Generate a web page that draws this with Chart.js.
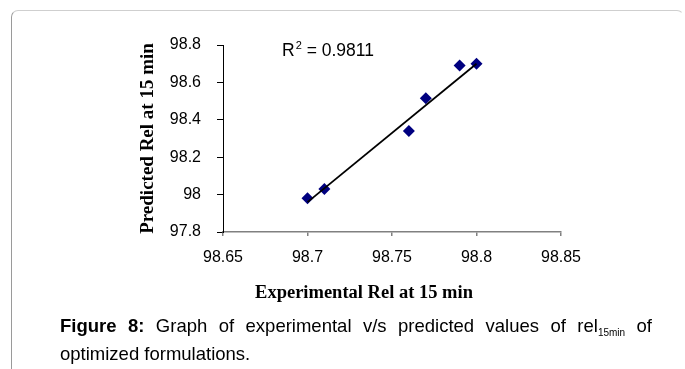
<!DOCTYPE html>
<html><head><meta charset="utf-8">
<script src="https://cdn.jsdelivr.net/npm/chart.js@4.4.1/dist/chart.umd.min.js"></script>
<style>
html,body{margin:0;padding:0;background:#fff;}
#wrap{position:relative;width:685px;height:369px;overflow:hidden;background:#fff;}
#frame{position:absolute;left:11px;top:10px;width:671px;height:420px;border-top:1.5px solid #cfcfcf;border-left:1.5px solid #9a9a9a;border-right:1.5px solid transparent;border-top-left-radius:7px;border-top-right-radius:7px;}
canvas{position:absolute;left:0;top:0;}
.t{position:absolute;white-space:nowrap;color:#000;}
#xtitle{left:0;width:728px;text-align:center;top:282px;font:bold 18.5px "Liberation Serif","Times New Roman",serif;line-height:20px;}
#r2{left:282px;top:40px;font:17.5px "Liberation Sans",Arial,sans-serif;line-height:20px;}
#r2 sup{font-size:11px;position:relative;top:-7px;vertical-align:baseline;margin-left:1px;}
#cap{position:absolute;left:60px;top:313px;width:592px;font:18.5px "Liberation Sans",Arial,sans-serif;line-height:25px;text-align:justify;color:#000;}
#cap sub{font-size:10px;position:relative;top:4px;vertical-align:baseline;}
</style>
</head><body>
<div id="wrap">
<div id="frame"></div>
<canvas id="c" width="685" height="369"></canvas>
<div id="xtitle" class="t">Experimental Rel at 15 min</div>
<div id="r2" class="t">R<sup>2</sup> = 0.9811</div>
<div id="cap"><b>Figure 8:</b> Graph of experimental v/s predicted values of rel<sub>15min</sub> of optimized formulations.</div>
</div>
<script>
// Data
const expX = [98.70, 98.71, 98.76, 98.77, 98.79, 98.80];
const predY = [97.98, 98.03, 98.34, 98.515, 98.69, 98.70];
const trendX = [98.70, 98.80];
const trendY = [97.96, 98.70];
const xTicks = [98.65, 98.7, 98.75, 98.8, 98.85];
const yTicks = [97.8, 98, 98.2, 98.4, 98.6, 98.8];
const yTitle = 'Predicted Rel at 15 min';

const PLOT_L = 223, PLOT_R = 561, PLOT_T = 45, PLOT_B = 232, W = 685, H = 369;
const PAD_L = 137;

new Chart(document.getElementById('c'), {
  type: 'scatter',
  data: {
    datasets: [
      {
        type: 'line',
        data: trendX.map((x, i) => ({x: x, y: trendY[i]})),
        borderColor: '#000000',
        borderWidth: 1.8,
        pointRadius: 0,
        fill: false,
        tension: 0,
        order: 0
      },
      {
        type: 'scatter',
        data: expX.map((x, i) => ({x: x, y: predY[i]})),
        pointStyle: 'rectRot',
        pointRadius: 6,
        backgroundColor: '#000080',
        borderColor: '#000080',
        borderWidth: 0,
        order: 1
      }
    ]
  },
  options: {
    responsive: false,
    animation: false,
    devicePixelRatio: 1,
    layout: {padding: {left: PAD_L, right: W - PLOT_R, top: PLOT_T, bottom: 0}},
    plugins: {legend: {display: false}, tooltip: {enabled: false}},
    scales: {
      x: {
        type: 'linear',
        min: xTicks[0],
        max: xTicks[xTicks.length - 1],
        afterBuildTicks: s => { s.ticks = xTicks.map(v => ({value: v})); },
        afterFit: s => { s.height = H - PLOT_B; },
        ticks: {
          callback: v => String(v),
          font: {family: '"Liberation Sans", Arial, sans-serif', size: 16},
          color: '#000',
          padding: 12,
          maxRotation: 0,
          autoSkip: false
        },
        grid: {drawOnChartArea: false, drawTicks: true, tickLength: 4, color: '#808080', lineWidth: 1.5},
        border: {display: true, color: '#808080', width: 1.5},
        title: {display: false}
      },
      y: {
        type: 'linear',
        min: yTicks[0],
        max: yTicks[yTicks.length - 1],
        afterBuildTicks: s => { s.ticks = yTicks.map(v => ({value: v})); },
        afterFit: s => { s.width = PLOT_L - PAD_L; },
        ticks: {
          callback: v => String(v),
          font: {family: '"Liberation Sans", Arial, sans-serif', size: 16},
          color: '#000',
          padding: 16,
          autoSkip: false
        },
        grid: {drawOnChartArea: false, drawTicks: true, tickLength: 6, color: '#000', lineWidth: 1},
        border: {display: true, color: '#000', width: 1},
        title: {
          display: true,
          text: yTitle,
          color: '#000',
          font: {family: '"Liberation Serif", "Times New Roman", serif', size: 19, weight: 'bold', lineHeight: 1.2},
          padding: {top: 0, bottom: 0}
        }
      }
    }
  }
});
</script>
</body></html>
